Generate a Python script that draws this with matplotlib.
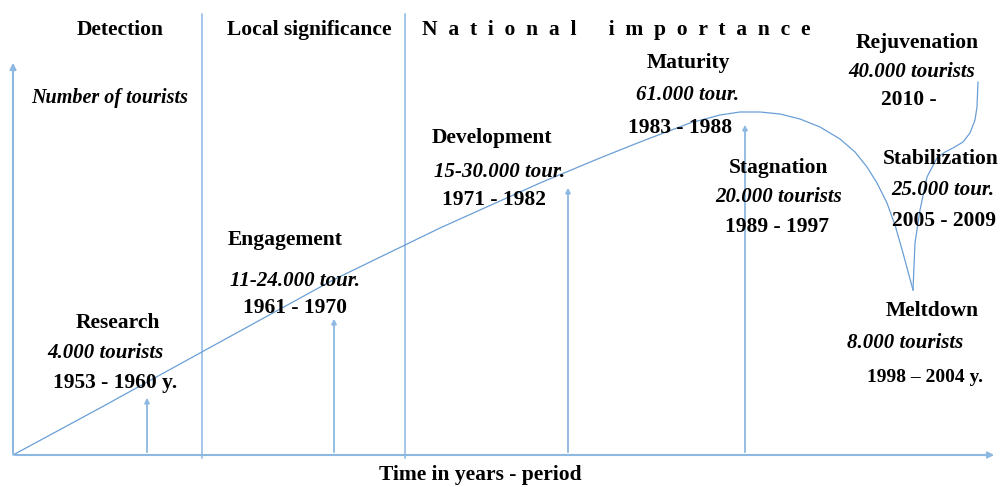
import matplotlib.pyplot as plt

# life-cycle curve (x = time position, y = level, pixel-like units, y grows down)
curve_x = [13, 100, 200, 333, 440, 540, 600, 640, 690, 720, 740, 760, 780, 800, 820,
           840, 855, 867, 877, 887, 895, 903, 913]
curve_y = [455, 408, 353, 280, 228, 183, 158, 142, 123, 115, 112, 112, 114, 119, 127,
           139, 152, 167, 183, 203, 225, 253, 290]
# rejuvenation branch after the meltdown
rejuv_x = [913, 915, 920, 927, 937, 945, 953, 963, 970, 975, 977, 978]
rejuv_y = [290, 243, 210, 177, 158, 152, 148, 142, 133, 120, 107, 82]

# stage arrows (x position, top of the arrow)
stage_x = [147, 334, 568, 745]
stage_top = [395, 316, 185, 122]

# period separators
sep_x = [202, 405]

phases = ["Detection", "Local significance", "National importance"]
phase_x = [120, 309, 616]

stage_names = ["Research", "Engagement", "Development", "Maturity", "Stagnation",
               "Meltdown", "Stabilization", "Rejuvenation"]
stage_tourists = ["4.000 tourists", "11-24.000 tour.", "15-30.000 tour.", "61.000 tour.",
                  "20.000 tourists", "8.000 tourists", "25.000 tour.", "40.000 tourists"]
stage_years = ["1953 - 1960 y.", "1961 - 1970", "1971 - 1982", "1983 - 1988",
               "1989 - 1997", "1998 \u2013 2004 y.", "2005 - 2009", "2010 -"]
# label anchor (name, tourists, years) positions
name_pos = [(118, 323), (285, 240), (492, 138), (688, 63), (779, 168), (932, 311), (941, 159), (917, 43)]
tour_pos = [(105, 353), (295, 281), (500, 172), (688, 95), (779, 197), (905, 343), (943, 190), (912, 72)]
year_pos = [(115, 383), (295, 308), (494, 200), (680, 128), (777, 227), (925, 377), (944, 221), (909, 100)]

axis_col = "#8DB8E2"
line_col = "#6A9FD6"
serif = "Liberation Serif"
fs_main = 15.5

fig = plt.figure(figsize=(10.01, 4.87), dpi=100)
ax = fig.add_axes([0, 0, 1, 1])
ax.set_xlim(0, 1001)
ax.set_ylim(487, 0)
ax.axis("off")

# axes with arrows
ax.annotate("", xy=(13, 60), xytext=(13, 456),
            arrowprops=dict(arrowstyle="-|>", color=axis_col, lw=1.5, mutation_scale=9))
ax.annotate("", xy=(997, 455), xytext=(12, 455),
            arrowprops=dict(arrowstyle="-|>", color=axis_col, lw=1.5, mutation_scale=9))

for sx in sep_x:
    ax.plot([sx, sx], [14, 458], color=axis_col, lw=1.1)

for sx, st in zip(stage_x, stage_top):
    ax.annotate("", xy=(sx, st), xytext=(sx, 455),
                arrowprops=dict(arrowstyle="-|>", color=axis_col, lw=1.3, mutation_scale=7))

ax.plot(curve_x, curve_y, color=line_col, lw=0.9)
ax.plot(rejuv_x, rejuv_y, color=line_col, lw=0.9)

# phase headers; the last one is letter-spaced
for name, px in zip(phases[:2], phase_x[:2]):
    ax.text(px, 30, name, ha="center", va="center", fontsize=fs_main, fontweight="bold", family=serif)
spaced = "  ".join(phases[2]).replace("     ", "      ")
ax.text(phase_x[2], 30, spaced, ha="center", va="center", fontsize=fs_main,
        fontweight="bold", family=serif)

for i in range(len(stage_names)):
    ax.text(*name_pos[i], stage_names[i], ha="center", va="center", fontsize=fs_main,
            fontweight="bold", family=serif)
    ax.text(*tour_pos[i], stage_tourists[i], ha="center", va="center", fontsize=fs_main - 0.5,
            fontweight="bold", style="italic", family=serif)
    fs = 14 if i == 5 else fs_main
    ax.text(*year_pos[i], stage_years[i], ha="center", va="center", fontsize=fs,
            fontweight="bold", family=serif)

ax.text(110, 98, "Number of tourists", ha="center", va="center", fontsize=fs_main - 1,
        fontweight="bold", style="italic", family=serif)
ax.text(480, 475, "Time in years - period", ha="center", va="center", fontsize=fs_main,
        fontweight="bold", family=serif)

fig.savefig("out.png", dpi=100)
